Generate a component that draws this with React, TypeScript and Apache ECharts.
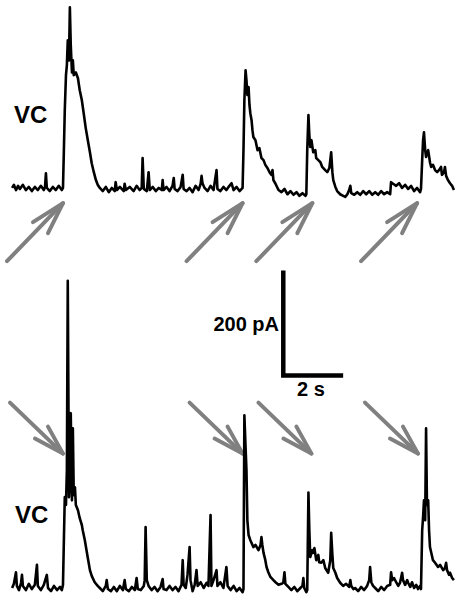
import React, { useEffect, useRef } from "react";
import * as echarts from "echarts";

// Time in seconds, current in pA (upward = inward current deflection)
const topTrace: [number, number][] = [
  [0.07, 2], [0.13, 8], [0.2, -2], [0.27, 6], [0.33, 0], [0.43, 8], [0.53, -2], [0.63, 4], [0.73, -4], [0.83, 4],
  [0.93, -2], [1.03, 6], [1.13, -2], [1.17, 4], [1.2, 30], [1.23, 2], [1.33, -4], [1.43, 4], [1.53, -2], [1.63, 6],
  [1.73, -2], [1.77, 2], [1.8, 74], [1.83, 150], [1.87, 217], [1.9, 236], [1.93, 283], [1.97, 245], [2.0, 346], [2.03, 274],
  [2.07, 222], [2.1, 245], [2.13, 217], [2.2, 222], [2.27, 211], [2.33, 188], [2.4, 169], [2.47, 141], [2.53, 116], [2.6, 93],
  [2.67, 70], [2.73, 49], [2.8, 32], [2.87, 17], [2.93, 8], [3.0, 2], [3.1, -4], [3.2, 4], [3.3, -6], [3.4, 2],
  [3.5, -4], [3.53, 13], [3.57, -2], [3.67, 4], [3.8, -4], [3.83, 10], [3.87, -2], [4.0, 4], [4.13, -4], [4.23, 6],
  [4.33, -2], [4.4, 2], [4.43, 59], [4.47, 0], [4.57, -4], [4.63, 32], [4.67, -2], [4.77, 4], [4.87, -4], [4.97, 2],
  [5.07, -2], [5.1, 17], [5.13, -2], [5.23, 4], [5.33, -4], [5.43, 6], [5.47, 21], [5.5, 0], [5.6, -4], [5.7, 4],
  [5.77, 27], [5.8, 0], [5.9, -4], [6.0, 2], [6.1, -6], [6.2, 6], [6.3, -2], [6.37, 10], [6.4, 25], [6.43, 11],
  [6.5, 2], [6.6, -4], [6.7, 6], [6.8, -2], [6.9, 36], [6.93, 0], [7.03, -4], [7.13, 4], [7.23, -2], [7.33, 6],
  [7.4, 11], [7.47, -2], [7.57, 4], [7.67, -4], [7.77, 2], [7.8, 74], [7.83, 169], [7.87, 226], [7.9, 207], [7.93, 179],
  [7.97, 194], [8.0, 160], [8.03, 144], [8.07, 131], [8.1, 112], [8.13, 99], [8.2, 93], [8.27, 74], [8.33, 78], [8.4, 59],
  [8.47, 55], [8.53, 46], [8.6, 40], [8.67, 32], [8.73, 27], [8.77, 36], [8.8, 17], [8.87, 10], [8.97, -2], [9.07, -6],
  [9.17, 0], [9.27, -10], [9.37, -4], [9.47, -11], [9.57, -6], [9.67, -13], [9.77, -8], [9.87, -13], [9.9, -10], [9.93, 74],
  [9.97, 141], [10.0, 103], [10.03, 80], [10.07, 93], [10.13, 70], [10.2, 74], [10.23, 59], [10.3, 55], [10.37, 51], [10.43, 42],
  [10.53, 36], [10.6, 32], [10.67, 40], [10.7, 55], [10.73, 70], [10.77, 32], [10.8, 17], [10.87, 4], [10.93, -4], [11.03, -10],
  [11.13, -13], [11.2, -15], [11.27, -10], [11.33, -2], [11.37, 6], [11.4, -8], [11.5, -11], [11.6, -6], [11.7, -11], [11.8, -4],
  [11.9, -10], [12.0, -4], [12.1, -11], [12.2, -6], [12.3, -11], [12.4, -4], [12.5, -10], [12.6, -6], [12.7, -10], [12.73, 13],
  [12.8, 10], [12.9, 6], [13.0, 11], [13.1, 2], [13.2, 8], [13.3, 0], [13.4, 6], [13.5, -4], [13.6, 2], [13.7, -6],
  [13.73, 0], [13.77, 55], [13.8, 93], [13.83, 108], [13.87, 74], [13.9, 61], [13.93, 70], [13.97, 74], [14.03, 51], [14.07, 42],
  [14.13, 46], [14.2, 36], [14.27, 32], [14.33, 36], [14.4, 42], [14.43, 27], [14.5, 32], [14.53, 42], [14.57, 25], [14.63, 17],
  [14.7, 11], [14.77, 6], [14.83, -2],
];

const bottomTrace: [number, number][] = [
  [0.07, 0], [0.13, 8], [0.2, 30], [0.23, 4], [0.3, -4], [0.37, 10], [0.4, 25], [0.43, 4], [0.53, -4], [0.63, 8],
  [0.73, -2], [0.83, 6], [0.9, 44], [0.93, 4], [1.03, -4], [1.13, 6], [1.23, 25], [1.27, 0], [1.37, -6], [1.47, 4],
  [1.57, -4], [1.67, 2], [1.73, -4], [1.77, 6], [1.8, 91], [1.83, 173], [1.87, 158], [1.9, 224], [1.93, 585], [1.97, 173],
  [2.0, 205], [2.03, 333], [2.07, 167], [2.1, 304], [2.13, 177], [2.17, 192], [2.2, 158], [2.27, 148], [2.33, 133], [2.4, 120],
  [2.43, 110], [2.5, 91], [2.57, 67], [2.6, 57], [2.67, 34], [2.73, 23], [2.83, 11], [2.93, 4], [3.0, 0], [3.1, -6],
  [3.2, 4], [3.23, 15], [3.27, -2], [3.37, -6], [3.47, 2], [3.57, -6], [3.67, 4], [3.77, -4], [3.83, 15], [3.87, -2],
  [3.97, -6], [4.07, 2], [4.17, -4], [4.23, 19], [4.27, -2], [4.37, -4], [4.47, 4], [4.5, 15], [4.53, 116], [4.57, 15],
  [4.63, 4], [4.73, -4], [4.83, 2], [4.93, -6], [5.03, 2], [5.1, 17], [5.13, -2], [5.23, -4], [5.33, 4], [5.43, -4],
  [5.53, 2], [5.63, -6], [5.73, 6], [5.77, 53], [5.8, 6], [5.87, 0], [5.93, 25], [6.0, 78], [6.03, 15], [6.1, -6],
  [6.17, 6], [6.23, 34], [6.27, 4], [6.37, 11], [6.47, 0], [6.57, 10], [6.63, 4], [6.7, 139], [6.73, 4], [6.8, 15],
  [6.9, 34], [6.93, 4], [7.03, 11], [7.13, 0], [7.23, 40], [7.27, 4], [7.37, -4], [7.47, 4], [7.57, -6], [7.67, 0],
  [7.77, -8], [7.8, -2], [7.83, 329], [7.87, 268], [7.9, 224], [7.93, 129], [7.97, 101], [8.03, 91], [8.1, 82], [8.13, 78],
  [8.2, 82], [8.3, 72], [8.37, 82], [8.4, 97], [8.43, 82], [8.47, 67], [8.53, 53], [8.57, 40], [8.63, 30], [8.7, 21],
  [8.8, 15], [8.87, 11], [8.97, 6], [9.07, 8], [9.13, 10], [9.17, 30], [9.2, 8], [9.3, 2], [9.4, -4], [9.5, 2],
  [9.6, -6], [9.7, 0], [9.77, 4], [9.8, 19], [9.83, 0], [9.9, -8], [9.93, -4], [9.97, 182], [10.0, 110], [10.03, 59],
  [10.1, 72], [10.13, 67], [10.17, 76], [10.23, 53], [10.3, 63], [10.33, 49], [10.4, 48], [10.47, 53], [10.53, 38], [10.63, 29],
  [10.7, 53], [10.73, 105], [10.77, 63], [10.8, 38], [10.87, 29], [10.93, 19], [11.03, 10], [11.13, 4], [11.23, 8], [11.33, 2],
  [11.37, 15], [11.4, 4], [11.47, -2], [11.53, 0], [11.63, -6], [11.73, 2], [11.83, -4], [11.93, 4], [12.0, 15], [12.03, 40],
  [12.07, 11], [12.13, 4], [12.2, 0], [12.3, -6], [12.4, 2], [12.5, -4], [12.6, 4], [12.7, 6], [12.73, 30], [12.77, 15],
  [12.83, 19], [12.9, 11], [12.97, 4], [13.03, 10], [13.1, 29], [13.13, 15], [13.2, 6], [13.27, 15], [13.3, 10], [13.37, 2],
  [13.43, 11], [13.5, 0], [13.57, 6], [13.63, -2], [13.7, 4], [13.73, -2], [13.77, 110], [13.8, 135], [13.83, 167], [13.87, 129],
  [13.9, 304], [13.93, 158], [13.97, 167], [14.0, 110], [14.03, 78], [14.07, 68], [14.13, 53], [14.2, 48], [14.3, 40], [14.37, 44],
  [14.47, 34], [14.53, 38], [14.57, 48], [14.6, 34], [14.67, 25], [14.7, 29], [14.77, 19], [14.83, 15],
];

// Stimulus arrows: times (s) the arrows point at, and the current level of the arrow tip
const topArrowTimes = [1.77, 7.77, 10.1, 13.6];
const topArrowLevel = -27;
const bottomArrowTimes = [1.77, 7.77, 10.07, 13.63];
const bottomArrowLevel = 256;

// Scale bar
const scaleBarTime = 2; // s
const scaleBarCurrent = 200; // pA
const scaleBarOrigin: [number, number] = [9.13, 405];
const scaleBarLabels = ["200 pA", "2 s"];
const traceLabels = ["VC", "VC"];

const FONT = '"Liberation Sans", Arial, sans-serif';

function arrowRenderer(dir: "up" | "down") {
  return (_params: any, api: any) => {
    const [tx, ty] = api.coord([api.value(0), api.value(1)]);
    const shaft = dir === "up" ? [-56, 58] : [-53, -51];
    const b1 = dir === "up" ? [-30, 19] : [-15, -27];
    const b2 = dir === "up" ? [-15, 30] : [-28, -15];
    const style = {
      stroke: "#808080",
      lineWidth: 4,
      lineCap: "round",
      lineJoin: "round",
      fill: null,
    };
    return {
      type: "group",
      children: [
        { type: "line", shape: { x1: tx, y1: ty, x2: tx + shaft[0], y2: ty + shaft[1] }, style },
        {
          type: "polyline",
          shape: { points: [[tx + b1[0], ty + b1[1]], [tx, ty], [tx + b2[0], ty + b2[1]]] },
          style,
        },
      ],
    };
  };
}

export default function App() {
  const ref = useRef<HTMLDivElement>(null);
  useEffect(() => {
    if (!ref.current) return;
    const chart = echarts.init(ref.current, undefined, { renderer: "svg" });
    const [ox, oy] = scaleBarOrigin;
    const traceStyle = { color: "#000", width: 2.6, join: "round" };
    const option: any = {
      animation: false,
      backgroundColor: "#ffffff",
      grid: [
        { left: 10, width: 450, top: 5.25, height: 210 },
        { left: 10, width: 450, top: 262.5, height: 336 },
      ],
      xAxis: [
        { type: "value", gridIndex: 0, min: 0, max: 15, show: false },
        { type: "value", gridIndex: 1, min: 0, max: 15, show: false },
      ],
      yAxis: [
        { type: "value", gridIndex: 0, min: -50, max: 350, show: false },
        { type: "value", gridIndex: 1, min: -20, max: 620, show: false },
      ],
      series: [
        {
          type: "line",
          xAxisIndex: 0,
          yAxisIndex: 0,
          data: topTrace,
          showSymbol: false,
          lineStyle: traceStyle,
          silent: true,
        },
        {
          type: "line",
          xAxisIndex: 1,
          yAxisIndex: 1,
          data: bottomTrace,
          showSymbol: false,
          lineStyle: traceStyle,
          silent: true,
        },
        {
          type: "line",
          xAxisIndex: 1,
          yAxisIndex: 1,
          data: [
            [ox, oy + scaleBarCurrent],
            [ox, oy],
            [ox + scaleBarTime, oy],
          ],
          showSymbol: false,
          lineStyle: { color: "#000", width: 4.5, join: "miter", cap: "butt" },
          silent: true,
        },
        {
          type: "custom",
          xAxisIndex: 0,
          yAxisIndex: 0,
          clip: false,
          data: topArrowTimes.map((t) => [t, topArrowLevel]),
          renderItem: arrowRenderer("up"),
          silent: true,
        },
        {
          type: "custom",
          xAxisIndex: 1,
          yAxisIndex: 1,
          clip: false,
          data: bottomArrowTimes.map((t) => [t, bottomArrowLevel]),
          renderItem: arrowRenderer("down"),
          silent: true,
        },
      ],
      graphic: [
        {
          type: "text",
          x: 14,
          y: 114,
          style: { text: traceLabels[0], font: `bold 24px ${FONT}`, fill: "#000", verticalAlign: "middle", textVerticalAlign: "middle" },
        },
        {
          type: "text",
          x: 15,
          y: 514,
          style: { text: traceLabels[1], font: `bold 24px ${FONT}`, fill: "#000", verticalAlign: "middle", textVerticalAlign: "middle" },
        },
        {
          type: "text",
          x: 279,
          y: 324,
          style: {
            text: scaleBarLabels[0],
            font: `bold 20px ${FONT}`,
            fill: "#000",
            align: "right",
            textAlign: "right",
            verticalAlign: "middle",
            textVerticalAlign: "middle",
          },
        },
        {
          type: "text",
          x: 297,
          y: 389,
          style: {
            text: scaleBarLabels[1],
            font: `bold 20px ${FONT}`,
            fill: "#000",
            verticalAlign: "middle",
            textVerticalAlign: "middle",
          },
        },
      ],
    };
    chart.setOption(option);
    return () => chart.dispose();
  }, []);
  return (
    <div
      ref={ref}
      style={{ position: "absolute", left: 0, top: 0, width: 459, height: 603, background: "#fff" }}
    />
  );
}
